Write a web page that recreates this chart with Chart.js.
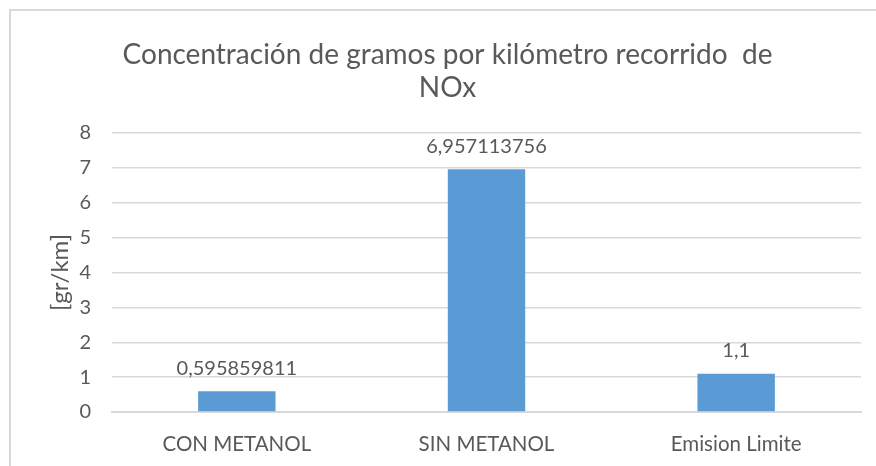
<!DOCTYPE html>
<html>
<head>
<meta charset="utf-8">
<script src="https://cdn.jsdelivr.net/npm/chart.js@4/dist/chart.umd.min.js"></script>
<style>
  html, body { margin: 0; padding: 0; background: #ffffff; }
  #wrap { position: relative; width: 876px; height: 466px; overflow: hidden; }
  #frame { position: absolute; left: 9px; top: 9px; width: 900px; height: 500px;
           border-top: 2px solid #d9d9d9; border-left: 2px solid #d9d9d9; box-sizing: border-box; }
  canvas { position: absolute; left: 0; top: 0; }
</style>
</head>
<body>
<div id="wrap">
  <div id="frame"></div>
  <canvas id="chart" width="876" height="466"></canvas>
</div>
<script>
// Emissions of NOx per kilometre travelled
const categories = ['CON METANOL', 'SIN METANOL', 'Emision Limite'];
const noxValues = [0.595859811, 6.957113756, 1.1];
const yTicks = [0, 1, 2, 3, 4, 5, 6, 7, 8];
const titleLines = ['Concentración de gramos por kilómetro recorrido  de', 'NOx'];
const yAxisTitle = '[gr/km]';

const FONT = 'Lato, "Open Sans", sans-serif';
const TEXT = '#595959';

// Two-line heading, centred across the framed area
const heading = {
  id: 'heading',
  afterDraw(chart) {
    const ctx = chart.ctx;
    ctx.save();
    ctx.font = '28px ' + FONT;
    ctx.fillStyle = TEXT;
    ctx.textAlign = 'center';
    ctx.textBaseline = 'middle';
    const cx = (9 + chart.width) / 2 + 5;
    titleLines.forEach((line, i) => ctx.fillText(line, cx, 55 + i * 33));
    ctx.restore();
  }
};

// Writes each bar's value (decimal comma) just above the bar
const valueLabels = {
  id: 'valueLabels',
  afterDatasetsDraw(chart) {
    const ctx = chart.ctx;
    const meta = chart.getDatasetMeta(0);
    ctx.save();
    ctx.font = '20px ' + FONT;
    ctx.fillStyle = TEXT;
    ctx.textAlign = 'center';
    ctx.textBaseline = 'middle';
    meta.data.forEach((bar, i) => {
      const txt = String(noxValues[i]).replace('.', ',');
      ctx.fillText(txt, bar.x, bar.y - 23);
    });
    ctx.restore();
  }
};

new Chart(document.getElementById('chart'), {
  type: 'bar',
  data: {
    labels: categories,
    datasets: [{
      data: noxValues,
      backgroundColor: '#5b9bd5',
      borderWidth: 0,
      barPercentage: 0.62,
      categoryPercentage: 0.5
    }]
  },
  plugins: [valueLabels, heading],
  options: {
    responsive: false,
    animation: false,
    events: [],
    layout: { padding: { left: 0, right: 15, top: 133, bottom: 0 } },
    plugins: {
      legend: { display: false },
      tooltip: { enabled: false },
      title: { display: false }
    },
    scales: {
      x: {
        grid: { display: false, drawTicks: false },
        border: { display: true, color: '#d9d9d9', width: 2 },
        ticks: { color: TEXT, font: { family: FONT, size: 20.5 }, padding: 20, maxRotation: 0 },
        afterFit(scale) { scale.height = 54; }
      },
      y: {
        min: 0,
        max: 8,
        afterBuildTicks(scale) { scale.ticks = yTicks.map(v => ({ value: v })); },
        grid: { color: '#d9d9d9', lineWidth: 1.5, drawTicks: false },
        border: { display: false },
        ticks: { color: TEXT, font: { family: FONT, size: 20 }, padding: 21 },
        title: {
          display: true,
          text: yAxisTitle,
          color: TEXT,
          font: { family: FONT, size: 24 },
          padding: { top: 46, bottom: 0 }
        },
        afterFit(scale) { scale.width = 112; }
      }
    }
  }
});
</script>
</body>
</html>
